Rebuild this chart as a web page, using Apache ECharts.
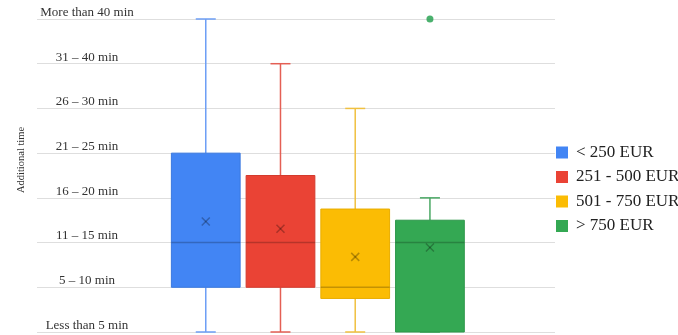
<!DOCTYPE html>
<html>
<head>
<meta charset="utf-8">
<script src="https://cdn.jsdelivr.net/npm/echarts@6/dist/echarts.min.js"></script>
<style>
  html, body { margin: 0; padding: 0; background: #fff; }
  #chart { width: 678px; height: 335px; }
</style>
</head>
<body>
<div id="chart"></div>
<script>
// Price groups (one box per group)
const categories = ['< 250 EUR', '251 - 500 EUR', '501 - 750 EUR', '> 750 EUR'];
// Five-number summaries on the ordinal time scale (0 = less than 5 min ... 7 = more than 40 min)
const mins    = [0, 0, 0, 0];
const q1s     = [1, 1, 0.75, 0];
const medians = [2, 2, 1, 2];
const q3s     = [4, 3.5, 2.75, 2.5];
const maxs    = [7, 6, 5, 3];
const means   = [2.47, 2.31, 1.68, 1.89];
// Outliers as [group index, value]
const outliers = [[3, 7]];
// Labels of the time bands
const tickLabels = ['Less than 5 min', '5 \u2013 10 min', '11 \u2013 15 min', '16 \u2013 20 min',
                    '21 \u2013 25 min', '26 \u2013 30 min', '31 \u2013 40 min', 'More than 40 min'];
const colors = ['#4285F4', '#EA4335', '#FBBC04', '#34A853'];
const borderColors = ['#3a78df', '#d33a2d', '#e9ad00', '#2d974a'];
const whiskerColors = ['#6d9ef5', '#e45f54', '#f0c040', '#4aa864'];

const serif = '"Liberation Serif", "DejaVu Serif", serif';

function renderBox(params, api) {
  const idx = api.value(0);
  const pMin = api.coord([idx, api.value(1)]);
  const pQ1 = api.coord([idx, api.value(2)]);
  const pMed = api.coord([idx, api.value(3)]);
  const pQ3 = api.coord([idx, api.value(4)]);
  const pMax = api.coord([idx, api.value(5)]);
  const pMean = api.coord([idx, api.value(6)]);
  const band = api.size([1, 0])[0];
  const boxW = band * 0.92;
  const capW = 20;
  const cx = pMed[0];
  const s = params.seriesIndex;
  const wStyle = { stroke: whiskerColors[s], lineWidth: 1.5 };
  const m = 4;
  return {
    type: 'group',
    children: [
      { type: 'line', shape: { x1: cx, y1: pMax[1], x2: cx, y2: pQ3[1] }, style: wStyle },
      { type: 'line', shape: { x1: cx, y1: pQ1[1], x2: cx, y2: pMin[1] }, style: wStyle },
      { type: 'line', shape: { x1: cx - capW / 2, y1: pMax[1], x2: cx + capW / 2, y2: pMax[1] }, style: wStyle },
      { type: 'line', shape: { x1: cx - capW / 2, y1: pMin[1], x2: cx + capW / 2, y2: pMin[1] }, style: wStyle },
      { type: 'rect', shape: { x: cx - boxW / 2, y: pQ3[1], width: boxW, height: pQ1[1] - pQ3[1] },
        style: { fill: colors[s], stroke: borderColors[s], lineWidth: 1 } },
      { type: 'line', shape: { x1: cx - boxW / 2, y1: pMed[1], x2: cx + boxW / 2, y2: pMed[1] },
        style: { stroke: 'rgba(0,0,0,0.22)', lineWidth: 1.5 } },
      { type: 'line', shape: { x1: pMean[0] - m, y1: pMean[1] - m, x2: pMean[0] + m, y2: pMean[1] + m },
        style: { stroke: 'rgba(0,0,0,0.28)', lineWidth: 1.5 } },
      { type: 'line', shape: { x1: pMean[0] - m, y1: pMean[1] + m, x2: pMean[0] + m, y2: pMean[1] - m },
        style: { stroke: 'rgba(0,0,0,0.28)', lineWidth: 1.5 } }
    ]
  };
}

const boxSeries = categories.map((name, i) => ({
  name: name,
  type: 'custom',
  xAxisIndex: 1,
  yAxisIndex: 1,
  itemStyle: { color: colors[i] },
  encode: { x: 0, y: [1, 2, 3, 4, 5, 6] },
  renderItem: renderBox,
  data: [[i, mins[i], q1s[i], medians[i], q3s[i], maxs[i], means[i]]],
  silent: true
}));

const chart = echarts.init(document.getElementById('chart'), null, { renderer: 'canvas' });
chart.setOption({
  animation: false,
  backgroundColor: '#ffffff',
  grid: [
    { left: 37, right: 123, top: 19, bottom: 3 },
    { left: 168.4, right: 210.7, top: 19, bottom: 3 }
  ],
  xAxis: [
    { type: 'category', gridIndex: 0, data: [''], show: false },
    { type: 'category', gridIndex: 1, data: categories, show: false }
  ],
  yAxis: [
    {
      type: 'value', gridIndex: 0, min: 0, max: 7, interval: 1,
      axisLine: { show: false }, axisTick: { show: false },
      splitLine: { lineStyle: { color: '#dedede', width: 1 } },
      axisLabel: {
        inside: true, margin: 50, align: 'center', verticalAlign: 'bottom',
        fontFamily: serif, fontSize: 13, color: '#333',
        formatter: v => tickLabels[Math.round(v)]
      }
    },
    { type: 'value', gridIndex: 1, min: 0, max: 7, interval: 1, show: false, splitLine: { show: false } }
  ],
  legend: {
    data: categories,
    orient: 'vertical',
    left: 551,
    top: 139,
    itemWidth: 12,
    itemHeight: 12,
    itemGap: 7.5,
    icon: 'rect',
    textStyle: { fontFamily: serif, fontSize: 17, color: '#222', padding: [0, 0, 0, 3] }
  },
  graphic: [
    {
      type: 'text', x: 21.5, y: 160, rotation: Math.PI / 2,
      style: { text: 'Additional time', font: '10.5px ' + serif, fill: '#333',
               align: 'center', verticalAlign: 'middle' }
    }
  ],
  series: boxSeries.concat([{
    name: 'outliers',
    type: 'scatter',
    xAxisIndex: 1,
    yAxisIndex: 1,
    symbol: 'circle',
    symbolSize: 7,
    itemStyle: { color: '#1e9e4a' },
    data: outliers,
    silent: true
  }])
});
</script>
</body>
</html>
